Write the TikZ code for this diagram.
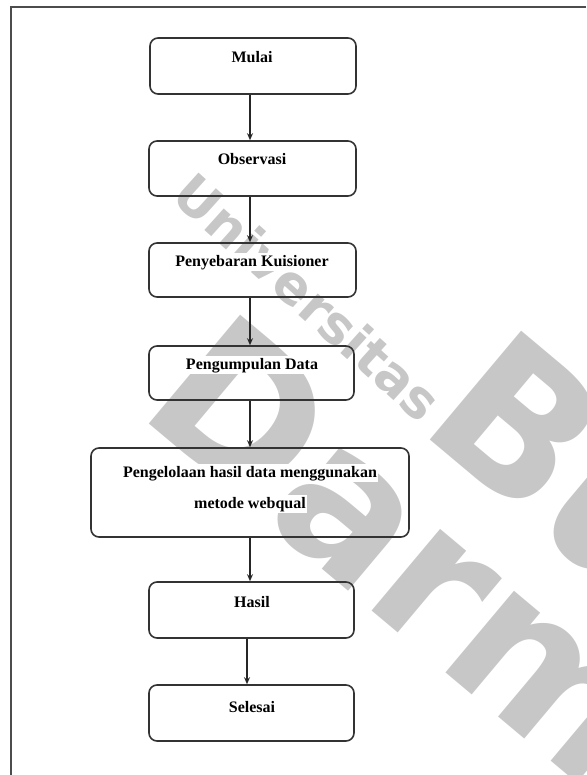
\documentclass[tikz,border=0pt]{standalone}
\usepackage{fontspec}
\setmainfont{Liberation Serif}
\newfontfamily\wmfont{DejaVu Sans}
\usetikzlibrary{arrows.meta}
\begin{document}
\begin{tikzpicture}[x=1pt,y=-1pt,
  box/.style={draw=black!80, line width=1.6pt, rounded corners=8pt, inner sep=0pt},
  lbl/.style={font=\bfseries\fontsize{16}{19}\selectfont, fill=white, inner sep=1.5pt, anchor=base},
  arr/.style={draw=black!85, line width=1.2pt, -{Stealth[length=7pt,width=6pt]}},
  wm/.style={text=black!22, inner sep=0pt},
  wmbig/.style={wm, rotate=-40, anchor=base west, font=\wmfont\bfseries\fontsize{195}{195}\selectfont},
  frame/.style={draw=black!70, line width=2pt}]
\useasboundingbox (0,0) rectangle (586,775);
% watermark
\begin{scope}
\clip (0,0) rectangle (586,775);
\node[wm, rotate=-42, font=\wmfont\bfseries\fontsize{53}{53}\selectfont] (wmA) at (308,297) {Universitas};
\node[wmbig] (wmB) at (416,428) {Buddhi};
\node[wmbig] (wmC) at (135,412) {Darma};
\end{scope}
% frame
\coordinate (fTL) at (11,7);
\coordinate (fTR) at (586,7);
\coordinate (fBL) at (11,775);
\draw[frame] (fTR) -- (fTL) -- (fBL);
% boxes
\node[box, minimum width=206pt, minimum height=56pt] (b1) at (253,66) {};
\node[box, minimum width=207pt, minimum height=55pt] (b2) at (252.5,168.5) {};
\node[box, minimum width=207pt, minimum height=54pt] (b3) at (252.5,270) {};
\node[box, minimum width=205pt, minimum height=54pt] (b4) at (251.5,373) {};
\node[box, minimum width=318pt, minimum height=89pt] (b5) at (250,492.5) {};
\node[box, minimum width=205pt, minimum height=56pt] (b6) at (251.5,610) {};
\node[box, minimum width=205pt, minimum height=56pt] (b7) at (251.5,713) {};
% labels
\node[lbl] (t1) at (252,63) {Mulai};
\node[lbl] (t2) at (252,165) {Observasi};
\node[lbl] (t3) at (252,266) {Penyebaran Kuisioner};
\node[lbl] (t4) at (252,369) {Pengumpulan Data};
\node[lbl] (t5a) at (250,477) {Pengelolaan hasil data menggunakan};
\node[lbl] (t5b) at (250,508) {metode webqual};
\node[lbl] (t6) at (252,607) {Hasil};
\node[lbl] (t7) at (252,712) {Selesai};
% connectors
\coordinate (ax) at (250,0);
\coordinate (ay) at (247,0);
\draw[arr] (b1.south -| ax) -- (b2.north -| ax);
\draw[arr] (b2.south -| ax) -- (b3.north -| ax);
\draw[arr] (b3.south -| ax) -- (b4.north -| ax);
\draw[arr] (b4.south -| ax) -- (b5.north -| ax);
\draw[arr] (b5.south -| ax) -- (b6.north -| ax);
\draw[arr] (b6.south -| ay) -- (b7.north -| ay);
\end{tikzpicture}
\end{document}
